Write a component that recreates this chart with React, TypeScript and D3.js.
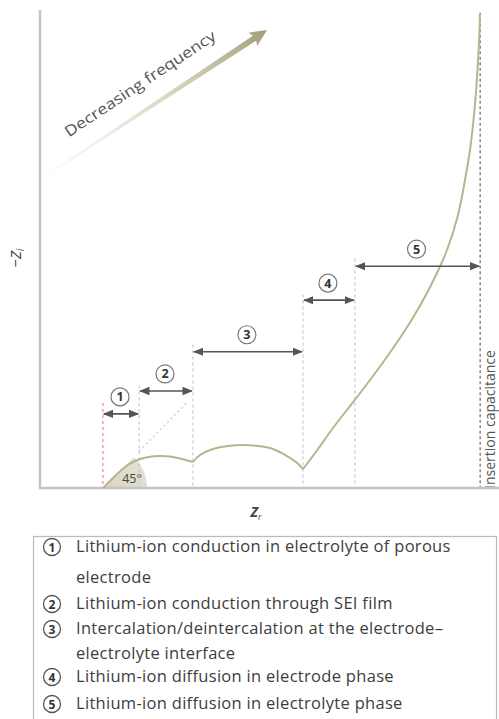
import React from "react";
import * as d3 from "d3";

// Nyquist curve segments (Z_r, -Z_i) in arbitrary units
const electrolyteArc: [number, number][] = [
  [13.73, 0], [16.12, 2.3], [18.52, 4.39], [20.7, 5.65], [23.09, 6.38], [25.71, 6.69],
  [28.32, 6.59], [30.94, 6.07], [33.33, 5.44],
];
const interfaceArc: [number, number][] = [
  [33.33, 5.44], [34.86, 6.9], [37.69, 8.16], [40.96, 8.79], [44.23, 9.0], [47.49, 8.79],
  [50.76, 8.16], [53.81, 6.69], [55.77, 5.44], [57.3, 3.97],
];
const diffusionTail: [number, number][] = [
  [57.3, 3.97], [60.57, 8.16], [63.83, 12.55], [67.54, 17.15], [71.24, 21.76], [74.95, 26.57],
  [78.43, 31.38], [81.48, 35.98], [84.31, 40.79], [86.49, 44.98], [88.67, 49.79], [91.07, 57.11],
  [92.59, 64.44], [93.68, 70.71], [94.66, 79.08], [95.32, 87.45], [95.71, 94.77], [95.86, 99.16],
];
const diagonal45: [number, number][] = [[21.6, 7.7], [32.2, 18.0]];

// Process regions
const processIds = [1, 2, 3, 4, 5];
const processFrom = [13.7, 21.6, 33.3, 57.3, 68.6];
const processTo = [21.6, 33.3, 57.3, 68.6, 95.9];
const processLevel = [15.5, 20.3, 28.5, 39.3, 46.4];
const boundaryX = [13.7, 21.6, 33.3, 57.3, 68.6];
const boundaryTop = [17.8, 21.5, 30.0, 40.5, 48.0];
const capacitanceX = 95.9;

const legendNums = ["1", "2", "3", "4", "5"];
const legendTexts = [
  ["Lithium-ion conduction in electrolyte of porous", "electrode"],
  ["Lithium-ion conduction through SEI film"],
  ["Intercalation/deintercalation at the electrode–", "electrolyte interface"],
  ["Lithium-ion diffusion in electrode phase"],
  ["Lithium-ion diffusion in electrolyte phase"],
];
const legendRowY = [[552, 583], [609], [634, 659], [682], [709]];

const W = 499;
const H = 719;
const FONT = "'Open Sans', 'DejaVu Sans', sans-serif";
const CURVE = "#b9b48e";

export default function App() {
  const x = d3.scaleLinear().domain([0, 100]).range([40, 499]);
  const y = d3.scaleLinear().domain([0, 100]).range([488, 10]);
  const line = d3
    .line<[number, number]>()
    .x((d) => x(d[0]))
    .y((d) => y(d[1]))
    .curve(d3.curveNatural);
  const straight = d3
    .line<[number, number]>()
    .x((d) => x(d[0]))
    .y((d) => y(d[1]));

  const wedge = d3.arc()({
    innerRadius: 0,
    outerRadius: 44,
    startAngle: Math.PI / 4,
    endAngle: Math.PI / 2,
  } as any) as string;

  const ax0 = 50, ay0 = 173, ax1 = 267, ay1 = 30;
  const aLen = Math.hypot(ax1 - ax0, ay1 - ay0);
  const aAng = (Math.atan2(ay1 - ay0, ax1 - ax0) * 180) / Math.PI;

  return (
    <svg
      width={W}
      height={H}
      style={{ position: "absolute", left: 0, top: 0, background: "#fff" }}
      fontFamily={FONT}
    >
      <defs>
        <linearGradient id="arrowGrad" x1="0" y1="0" x2="1" y2="0">
          <stop offset="0" stopColor="#e9e7d8" stopOpacity="0.2" />
          <stop offset="0.6" stopColor="#c9c6a8" stopOpacity="0.8" />
          <stop offset="1" stopColor="#a29e78" />
        </linearGradient>
        <linearGradient id="wedgeGrad" x1="0" y1="1" x2="1" y2="0">
          <stop offset="0" stopColor="#d8d5c2" />
          <stop offset="1" stopColor="#e6e4d6" />
        </linearGradient>
        <marker id="ah" viewBox="0 0 10 10" refX="9" refY="5" markerWidth="6.5" markerHeight="6.5" orient="auto-start-reverse">
          <path d="M0,1 L10,5 L0,9 Z" fill="#555" />
        </marker>
      </defs>

      {/* Decreasing frequency arrow */}
      <g transform={`translate(${ax0},${ay0}) rotate(${aAng})`}>
        <path
          d={`M0,-0.8 L${aLen - 15},-3 L${aLen - 17},-8 L${aLen},0 L${aLen - 17},8 L${aLen - 15},3 L0,0.8 Z`}
          fill="url(#arrowGrad)"
        />
      </g>
      <text
        transform={`translate(143,88) rotate(-33.7)`}
        textAnchor="middle"
        fontSize={15}
        fill="#555"
        textLength={178}
        lengthAdjust="spacingAndGlyphs"
      >
        Decreasing frequency
      </text>

      {/* 45° wedge */}
      <path d={wedge} transform={`translate(${x(electrolyteArc[0][0])},${y(0)})`} fill="url(#wedgeGrad)" />
      <text x={132} y={483} textAnchor="middle" fontSize={12.5} fill="#444">45°</text>

      {/* boundaries */}
      {boundaryX.map((bx, i) => (
        <line
          key={"b" + i}
          x1={x(bx)}
          x2={x(bx)}
          y1={y(boundaryTop[i])}
          y2={y(0)}
          stroke={i === 0 ? "#e58a8a" : "#c6c8d8"}
          strokeWidth={1.2}
          strokeDasharray="3,3"
        />
      ))}
      <line
        x1={x(capacitanceX)}
        x2={x(capacitanceX)}
        y1={y(99.4)}
        y2={y(0)}
        stroke="#888"
        strokeWidth={1.5}
        strokeDasharray="3,2.5"
      />
      <text
        transform={`translate(495,489) rotate(-90)`}
        fontSize={14}
        fill="#555"
        textAnchor="start"
      >
        Insertion capacitance
      </text>

      {/* 45° dotted diagonal */}
      <path d={straight(diagonal45) as string} stroke="#c8c8d2" strokeWidth={1.2} strokeDasharray="2,3" fill="none" />

      {/* axes */}
      <line x1={40} x2={40} y1={10} y2={489} stroke="#c4c4c4" strokeWidth={2.5} />
      <line x1={39} x2={499} y1={y(0)} y2={y(0)} stroke="#c4c4c4" strokeWidth={2.5} />

      {/* curve */}
      {[electrolyteArc, interfaceArc, diffusionTail].map((seg, i) => (
        <path key={"c" + i} d={line(seg) as string} fill="none" stroke={CURVE} strokeWidth={2} />
      ))}

      {/* process arrows */}
      {processIds.map((id, i) => {
        const x0 = x(processFrom[i]);
        const x1 = x(processTo[i]);
        const yy = y(processLevel[i]);
        return (
          <g key={"p" + id}>
            <line
              x1={x0 + 1}
              x2={x1 - 1}
              y1={yy}
              y2={yy}
              stroke="#555"
              strokeWidth={1.6}
              markerStart="url(#ah)"
              markerEnd="url(#ah)"
            />
            <circle cx={(x0 + x1) / 2 - 1} cy={yy - 17} r={9} fill="#fff" stroke="#777" strokeWidth={1.2} />
            <text
              x={(x0 + x1) / 2 - 1}
              y={yy - 12.5}
              textAnchor="middle"
              fontSize={12.5}
              fontWeight="bold"
              fill="#333"
            >
              {id}
            </text>
          </g>
        );
      })}

      {/* axis labels */}
      <text transform="translate(21,258) rotate(-90)" textAnchor="middle" fontSize={15} fill="#444" fontStyle="italic">
        −Z<tspan fontSize={10} dy={3}>i</tspan>
      </text>
      <text x={256} y={517} textAnchor="middle" fontSize={14} fill="#444" fontStyle="italic" fontWeight="bold">
        Z<tspan fontSize={9} dy={3} fontWeight="normal">r</tspan>
      </text>

      {/* legend */}
      <rect x={33.5} y={536.5} width={463} height={200} fill="none" stroke="#bbb" strokeWidth={1.2} />
      {legendNums.map((num, i) => (
        <g key={"l" + i}>
          <circle cx={52} cy={legendRowY[i][0] - 5} r={8.5} fill="#fff" stroke="#555" strokeWidth={1.3} />
          <text x={52} y={legendRowY[i][0] - 0.5} textAnchor="middle" fontSize={12} fontWeight="bold" fill="#333">
            {num}
          </text>
          {legendTexts[i].map((t, j) => (
            <text key={j} x={76} y={legendRowY[i][j]} fontSize={16.5} letterSpacing={0.3} fill="#3d3d3d">
              {t}
            </text>
          ))}
        </g>
      ))}
    </svg>
  );
}
